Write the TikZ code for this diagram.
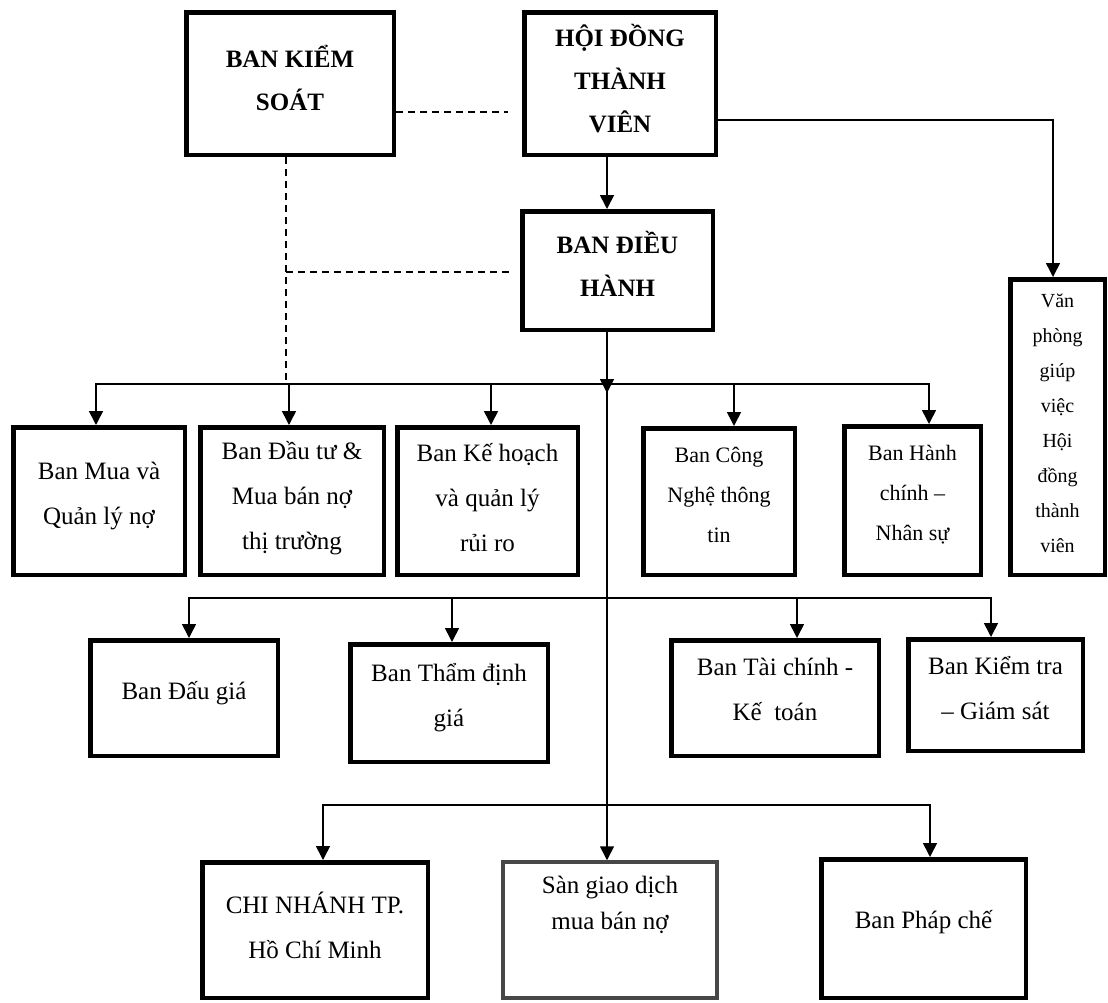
\documentclass[tikz,border=0pt]{standalone}
\usepackage{fontspec}
\setmainfont{Liberation Serif}
\usetikzlibrary{arrows.meta}

% a framed box given by its outer extents x1 y1 x2 y2 (y grows downwards)
\newcommand\orgbox[6][]{%
  \node[frame,#1,minimum width={#5-#3-4.5},minimum height={#6-#4-4.5}]
    (#2) at ({(#3+#5)/2},{(#4+#6)/2}) {};}

\tikzset{
  frame/.style={draw, line width=4.5pt, inner sep=0pt},
  greyframe/.style={draw=black!72, line width=4pt},
  txt/.style={align=center, inner sep=0pt, font={\fontsize{25pt}{45pt}\selectfont}},
  boldtxt/.style={txt, font={\bfseries\fontsize{25pt}{43pt}\selectfont}},
  midtxt/.style={txt, font={\fontsize{22pt}{40pt}\selectfont}},
  smalltxt/.style={txt, font={\fontsize{20pt}{35pt}\selectfont}},
  conn/.style={line width=1.6pt, line cap=rect},
  arr/.style={line width=1.6pt, -{Triangle[width=14pt,length=14pt]}},
  dashline/.style={line width=1.6pt, dash pattern=on 7pt off 5pt}
}

\begin{document}
\begin{tikzpicture}[x=1pt, y=-1pt]
\useasboundingbox (0,0) rectangle (1108,1002);

% ---- frames ----
\orgbox{bks}{184}{10}{396}{157}
\orgbox{hdtv}{522}{10}{718}{157}
\orgbox{bdh}{520}{209}{715}{332}
\orgbox{vp}{1008}{277}{1107}{577}
\orgbox{mua}{11}{425}{187}{577}
\orgbox{dautu}{198}{425}{386}{577}
\orgbox{kehoach}{395}{425}{580}{577}
\orgbox{cntt}{641}{426}{797}{577}
\orgbox{hcns}{842}{424}{983}{577}
\orgbox{daugia}{88}{638}{280}{758}
\orgbox{thamdinh}{348}{642}{550}{764}
\orgbox{taichinh}{669}{638}{881}{758}
\orgbox{kiemtra}{906}{637}{1085}{753}
\orgbox{chinhanh}{200}{860}{430}{1000}
\orgbox[greyframe]{san}{501}{860}{719}{1000}
\orgbox{phapche}{819}{857}{1028}{1000}

% ---- texts ----
\node[boldtxt] (bks-t) at (bks.center |- 0,77.5) {BAN KIỂM\\SOÁT};
\node[boldtxt] (hdtv-t) at (hdtv.center |- 0,79) {HỘI ĐỒNG\\THÀNH\\VIÊN};
\node[boldtxt] (bdh-t) at (bdh.center |- 0,263.5) {BAN ĐIỀU\\HÀNH};
\node[smalltxt] (vp-t) at (vp.center |- 0,423.5) {Văn\\phòng\\giúp\\việc\\Hội\\đồng\\thành\\viên};
\node[txt] (mua-t) at (mua.center |- 0,495.5) {Ban Mua và\\Quản lý nợ};
\node[txt] (dautu-t) at (dautu.center |- 0,498) {Ban Đầu tư \&\\Mua bán nợ\\thị trường};
\node[txt] (kehoach-t) at (kehoach.center |- 0,498) {Ban Kế hoạch\\và quản lý\\rủi ro};
\node[midtxt] (cntt-t) at (cntt.center |- 0,495) {Ban Công\\Nghệ thông\\tin};
\node[midtxt] (hcns-t) at (hcns.center |- 0,495) {Ban Hành\\chính –\\Nhân sự};
\node[txt] (daugia-t) at (daugia.center |- 0,693) {Ban Đấu giá};
\node[txt] (thamdinh-t) at (thamdinh.center |- 0,697.5) {Ban Thẩm định\\giá};
\node[txt] (taichinh-t) at (taichinh.center |- 0,689.5) {Ban Tài chính -\\Kế\ \ toán};
\node[txt] (kiemtra-t) at (kiemtra.center |- 0,688.5) {Ban Kiểm tra\\– Giám sát};
\node[txt] (chinhanh-t) at (chinhanh.center |- 0,925.5) {CHI NHÁNH TP.\\Hồ Chí Minh};
\node[txt, font={\fontsize{25pt}{36pt}\selectfont}] (san-t) at (san.center |- 0,905) {Sàn giao dịch\\mua bán nợ};
\node[txt] (phapche-t) at (phapche.center |- 0,922) {Ban Pháp chế};

% ---- reference points ----
\coordinate (trunk) at (607,0);
\coordinate (kx) at (286,0);
\coordinate (bus1) at (0,384);
\coordinate (bus2) at (0,598);
\coordinate (bus3) at (0,805);
\coordinate (vpc) at (1053,120);

% ---- supervisory links (dashed) ----
\draw[dashline] (bks.east |- 0,112) -- (508,112);
\draw[dashline] (bks.south -| kx) -- (kx |- bus1);
\draw[dashline] (kx |- 0,272) -- (513,272);

% ---- board links ----
\draw[arr] (hdtv.east |- vpc) -- (vpc) -- (vpc |- vp.north);
\draw[arr] (hdtv.south -| trunk) -- (bdh.north -| trunk);
\draw[arr] (bdh.south -| trunk) -- (trunk |- 0,393);
\draw[arr] (trunk |- bus1) -- (san.north -| trunk);

% ---- first row ----
\draw[conn] (96,384) -- (929,384);
\foreach \x/\n in {96/mua, 289/dautu, 491/kehoach, 734/cntt, 929/hcns}{
  \coordinate (r-\n) at (\x,384);
  \draw[arr] (r-\n) -- (r-\n |- \n.north);
}

% ---- second row ----
\draw[conn] (189,598) -- (991,598);
\foreach \x/\n in {189/daugia, 452/thamdinh, 797/taichinh, 991/kiemtra}{
  \coordinate (r-\n) at (\x,598);
  \draw[arr] (r-\n) -- (r-\n |- \n.north);
}

% ---- third row ----
\draw[conn] (323,805) -- (930,805);
\foreach \x/\n in {323/chinhanh, 930/phapche}{
  \coordinate (r-\n) at (\x,805);
  \draw[arr] (r-\n) -- (r-\n |- \n.north);
}
\end{tikzpicture}
\end{document}
